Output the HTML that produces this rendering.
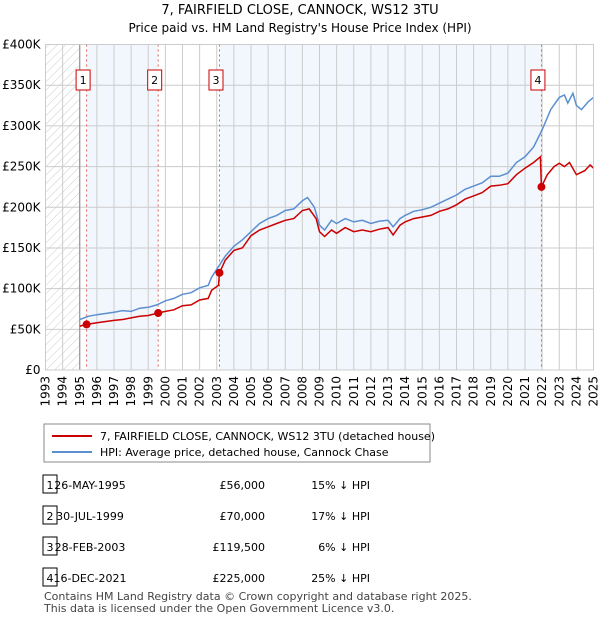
<!DOCTYPE html>
<html><head><meta charset="utf-8"><style>
body{margin:0;background:#fff;font-family:"Liberation Sans","DejaVu Sans",sans-serif;}
svg text{font-family:"DejaVu Sans","Liberation Sans",sans-serif;}
</style></head><body>
<svg id="c" width="600" height="620" xmlns="http://www.w3.org/2000/svg">
<defs><pattern id="hatch" width="6" height="6" patternUnits="userSpaceOnUse" patternTransform="rotate(45)"><line x1="0" y1="0" x2="0" y2="6" stroke="#ccc" stroke-width="1"/></pattern></defs>
<text x="300" y="14" text-anchor="middle" font-size="13">7, FAIRFIELD CLOSE, CANNOCK, WS12 3TU</text>
<text x="300" y="32" text-anchor="middle" font-size="12">Price paid vs. HM Land Registry's House Price Index (HPI)</text>
<g id="plot"></g>
<g>
<rect x="44" y="424" width="386" height="38" fill="#fff" stroke="#888"/>
<line x1="52" y1="436" x2="92" y2="436" stroke="#cc0000" stroke-width="2"/>
<text x="100" y="440" font-size="11">7, FAIRFIELD CLOSE, CANNOCK, WS12 3TU (detached house)</text>
<line x1="52" y1="452" x2="92" y2="452" stroke="#5b8fd0" stroke-width="2"/>
<text x="100" y="456" font-size="11">HPI: Average price, detached house, Cannock Chase</text>
</g>
<g id="table"></g>
<text x="44" y="600" font-size="11" fill="#444">Contains HM Land Registry data © Crown copyright and database right 2025.</text>
<text x="44" y="612" font-size="11" fill="#444">This data is licensed under the Open Government Licence v3.0.</text>
</svg>
<script>
const hpiYears=[1995.0,1995.5,1996,1997,1997.5,1998,1998.5,1999,1999.5,2000,2000.5,2001,2001.5,2002,2002.5,2002.7,2003,2003.5,2004,2004.5,2005,2005.5,2006,2006.5,2007,2007.5,2008,2008.3,2008.7,2009,2009.3,2009.7,2010,2010.5,2011,2011.5,2012,2012.5,2013,2013.3,2013.7,2014,2014.5,2015,2015.5,2016,2016.5,2017,2017.5,2018,2018.5,2019,2019.5,2020,2020.5,2021,2021.5,2022,2022.5,2023,2023.3,2023.5,2023.8,2024,2024.3,2024.7,2025];
const hpiValues=[62,66,68,71,73,72,76,77,80,85,88,93,95,101,104,114,124,140,152,160,170,180,186,190,196,198,208,212,200,178,172,184,180,186,182,184,180,183,184,176,186,190,195,197,200,205,210,215,222,226,230,238,238,242,255,262,274,295,320,335,338,328,340,325,320,330,335];
const priceYears=[1995.0,1995.4,1996,1997,1997.5,1998,1998.5,1999,1999.58,2000,2000.5,2001,2001.5,2002,2002.5,2002.7,2003.1,2003.16,2003.5,2004,2004.5,2005,2005.5,2006,2006.5,2007,2007.5,2008,2008.4,2008.8,2009,2009.3,2009.7,2010,2010.5,2011,2011.5,2012,2012.5,2013,2013.3,2013.7,2014,2014.5,2015,2015.5,2016,2016.5,2017,2017.5,2018,2018.5,2019,2019.5,2020,2020.5,2021,2021.5,2021.9,2021.96,2022.3,2022.7,2023,2023.3,2023.6,2024,2024.5,2024.8,2025];
const priceValues=[54,56,58,61,62,64,66,67,70,72,74,79,80,86,88,98,104,119.5,135,147,150,165,172,176,180,184,186,196,198,186,170,164,172,168,175,170,172,170,173,175,166,178,182,186,188,190,195,198,203,210,214,218,226,227,229,240,248,255,262,225,240,250,254,250,255,240,245,252,248];
const saleLabels=["1","2","3","4"];
const saleYears=[1995.4,1999.58,2003.16,2021.96];
const saleValues=[56,70,119.5,225];
const saleDates=["26-MAY-1995","30-JUL-1999","28-FEB-2003","16-DEC-2021"];
const salePrices=["£56,000","£70,000","£119,500","£225,000"];
const saleDiffs=["15% ↓ HPI","17% ↓ HPI","6% ↓ HPI","25% ↓ HPI"];
const yTicks=[0,50,100,150,200,250,300,350,400];
const yTickLabels=["£0","£50K","£100K","£150K","£200K","£250K","£300K","£350K","£400K"];
const xStart=1993,xEnd=2025;

const NS="http://www.w3.org/2000/svg";
const L=45.5,R=593.5,T=44.5,B=370;
const X=y=>L+(y-xStart)/(xEnd-xStart)*(R-L);
const Y=v=>B-v/400*(B-T);
function mk(tag,attrs,parent){const e=document.createElementNS(NS,tag);for(const k in attrs)e.setAttribute(k,attrs[k]);parent.appendChild(e);return e;}
const g=document.getElementById('plot');
let r;
r=mk('rect',{x:L,y:T,width:R-L,height:B-T,fill:'#fff'},g);


r=mk('rect',{x:X(saleYears[0]),y:T,width:X(saleYears[1])-X(saleYears[0]),height:B-T,fill:'#f2f6fd'},g);


r=mk('rect',{x:X(saleYears[2]),y:T,width:X(saleYears[3])-X(saleYears[2]),height:B-T,fill:'#f2f6fd'},g);


r=mk('rect',{x:L,y:T,width:X(1995)-L,height:B-T,fill:'url(#hatch)'},g);


for(let yr=xStart;yr<=xEnd;yr++){
  const x=X(yr);
  const ln=mk('line',{x1:x,y1:T,x2:x,y2:B,stroke:'#ccc','stroke-width':1},g);
  
  
  const t=mk('text',{x:0,y:0,'font-size':12,'text-anchor':'end',transform:`translate(${x+4},${B+6}) rotate(-90)`},g);
  t.textContent=yr;
  
  
}
yTicks.forEach((v,i)=>{
  const y=Y(v);
  const ln=mk('line',{x1:L,y1:y,x2:R,y2:y,stroke:'#ccc','stroke-width':1},g);
  
  
  const t=mk('text',{x:L-5,y:y+4,'font-size':12,'text-anchor':'end'},g);
  t.textContent=yTickLabels[i];
  
  
});
r=mk('line',{x1:X(1995),y1:T,x2:X(1995),y2:B,stroke:'#888'},g);


saleYears.forEach((s,i)=>{
  const ln=mk('line',{x1:X(s),y1:T,x2:X(s),y2:B,stroke:'#e06060','stroke-dasharray':'2,3'},g);
  
  
  const cx=X(s)-3.5;
  const rb=mk('rect',{x:cx-7,y:70,width:14,height:20,fill:'#fff',stroke:'#cc0000'},g);
  
  
  const t=mk('text',{x:cx,y:84,'font-size':11,'text-anchor':'middle'},g);
  t.textContent=saleLabels[i];
  
  
});
const pts=(xs,vs)=>xs.map((x,i)=>X(x).toFixed(1)+','+Y(vs[i]).toFixed(1)).join(' ');
r=mk('polyline',{points:pts(hpiYears,hpiValues),fill:'none',stroke:'#5b8fd0','stroke-width':1.5},g);


r=mk('polyline',{points:pts(priceYears,priceValues),fill:'none',stroke:'#cc0000','stroke-width':1.5},g);


saleYears.forEach((s,i)=>{
  const c=mk('circle',{cx:X(s),cy:Y(saleValues[i]),r:4,fill:'#cc0000'},g);
  
  
});
r=mk('rect',{x:L,y:T,width:R-L,height:B-T,fill:'none',stroke:'#ccc'},g);



const tb=document.getElementById('table');
saleLabels.forEach((lab,i)=>{
  const y=487+i*31;
  const b=mk('rect',{x:43,y:y-12,width:14,height:18,fill:'#fff',stroke:'#000'},tb);
  
  
  const cells=[[50,lab,'middle'],[90,saleDates[i],'middle'],[265,salePrices[i],'end'],[370,saleDiffs[i],'end']];
  cells.forEach(([x,txt,a],j)=>{
    const t=mk('text',{x:x,y:y+2,'font-size':11,'text-anchor':a},tb);
    t.textContent=txt;
    
    
  });
});
</script>
</body></html>
